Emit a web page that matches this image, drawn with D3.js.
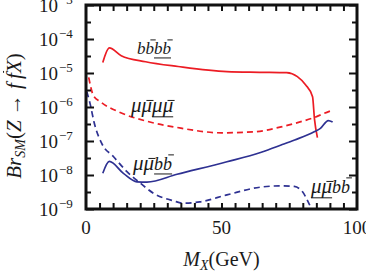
<!DOCTYPE html>
<html>
<head>
<meta charset="utf-8">
<script src="https://cdn.jsdelivr.net/npm/d3@7"></script>
<style>
  body { margin: 0; background: #fff; }
  text { font-family: "Liberation Serif", serif; fill: #1a1a1a; }
</style>
</head>
<body>
<div id="chart"></div>
<script>
// M_X (GeV) and Br_SM
const massBBBB = [6.2, 8.6, 13, 22, 34, 52, 64, 74, 78, 81, 83.6, 84.3, 85.4];
const brBBBB = [2.04e-5, 5.5e-5, 3.24e-5, 2.14e-5, 1.55e-5, 1.1e-5, 1.05e-5, 1.02e-5, 7.8e-6, 4.5e-6, 2.0e-6, 4.5e-7, 1.26e-7];

const massMMMM = [1, 2.7, 5.2, 12.6, 22.5, 33.6, 50, 62, 72, 79.3, 84.2, 87.9, 91];
const brMMMM = [7.4e-6, 2.2e-6, 1.45e-6, 6.9e-7, 3.8e-7, 2.5e-7, 1.74e-7, 1.86e-7, 2.6e-7, 3.7e-7, 4.9e-7, 6.5e-7, 8.1e-7];

const massMMBB = [6.2, 8.6, 13.8, 18.8, 22.5, 33.6, 52, 64.4, 72, 77, 84.2, 86.5, 89.4, 91];
const brMMBB = [1.12e-8, 2.5e-8, 1.12e-8, 6.3e-9, 6.2e-9, 1.05e-8, 2.45e-8, 4.6e-8, 7.6e-8, 1.07e-7, 1.86e-7, 2.35e-7, 4.0e-7, 3.6e-7];

const massMMBB2 = [0.3, 1.5, 3, 5.8, 10.1, 15.1, 20, 24.9, 32.3, 36, 42, 52, 64.4, 72, 76.8, 79.9, 81.7, 83.2];
const brMMBB2 = [2.8e-6, 1.26e-6, 3.5e-7, 8.5e-8, 3.5e-8, 1.26e-8, 5.8e-9, 2.9e-9, 1.74e-9, 1.48e-9, 1.62e-9, 2.6e-9, 4.4e-9, 4.8e-9, 4.6e-9, 3.2e-9, 1.8e-9, 1.0e-9];

const xTicks = [0, 50, 100];
const yExponents = [-3, -4, -5, -6, -7, -8, -9];

const width = 366, height = 272;
const marginLeft = 86, marginRight = 9, marginTop = 5, marginBottom = 63;
const red = '#ec1c24', blue = '#2e3192';

const svg = d3.select('#chart').append('svg')
  .attr('width', width).attr('height', height);

const x = d3.scaleLinear().domain([0, 100]).range([marginLeft, width - marginRight]);
const y = d3.scaleLog().domain([1e-9, 1e-3]).range([height - marginBottom, marginTop]);

svg.append('clipPath').attr('id', 'plotclip')
  .append('rect')
  .attr('x', x(0)).attr('y', y(1e-3))
  .attr('width', x(100) - x(0)).attr('height', y(1e-9) - y(1e-3));

// curves
const series = [
  { m: massBBBB, br: brBBBB, color: red, dash: null },
  { m: massMMMM, br: brMMMM, color: red, dash: '6,4' },
  { m: massMMBB, br: brMMBB, color: blue, dash: null },
  { m: massMMBB2, br: brMMBB2, color: blue, dash: '6,4' },
];
const line = d3.line()
  .x((d) => x(d[0]))
  .y((d) => y(d[1]))
  .curve(d3.curveMonotoneX);

const g = svg.append('g').attr('clip-path', 'url(#plotclip)');
series.forEach((s) => {
  g.append('path')
    .datum(d3.zip(s.m, s.br))
    .attr('fill', 'none')
    .attr('stroke', s.color)
    .attr('stroke-width', 1.7)
    .attr('stroke-dasharray', s.dash)
    .attr('d', line);
});

// ticks, inward on all four sides
const xMinor = d3.range(5, 100, 5);
const yMajor = yExponents.map((e) => Math.pow(10, e));
const yMinor = d3.range(-9, -3).map((e) => Math.pow(10, e + 0.5));

function tickAxis(axis, vals, size, transform) {
  svg.append('g')
    .attr('transform', transform)
    .call(axis.tickValues(vals).tickSize(size).tickFormat(''))
    .call((a) => a.select('.domain').remove())
    .call((a) => a.selectAll('line').attr('stroke', '#111').attr('stroke-width', 2));
}
tickAxis(d3.axisBottom(x), xMinor, -6, `translate(0,${y(1e-9)})`);
tickAxis(d3.axisTop(x), xMinor, -6, `translate(0,${y(1e-3)})`);
tickAxis(d3.axisLeft(y), yMajor, -8, `translate(${x(0)},0)`);
tickAxis(d3.axisLeft(y), yMinor, -5, `translate(${x(0)},0)`);
tickAxis(d3.axisRight(y), yMajor, -8, `translate(${x(100)},0)`);
tickAxis(d3.axisRight(y), yMinor, -5, `translate(${x(100)},0)`);

// frame
svg.append('rect')
  .attr('x', x(0)).attr('y', y(1e-3))
  .attr('width', x(100) - x(0)).attr('height', y(1e-9) - y(1e-3))
  .attr('fill', 'none').attr('stroke', '#111').attr('stroke-width', 3);

// tick labels
svg.append('g').selectAll('text')
  .data(xTicks)
  .join('text')
  .attr('x', (d) => x(d))
  .attr('y', y(1e-9) + 25)
  .attr('text-anchor', 'middle')
  .attr('font-size', 19)
  .text((d) => d);

const yl = svg.append('g').selectAll('text')
  .data(yExponents)
  .join('text')
  .attr('x', 39)
  .attr('y', (d) => y(Math.pow(10, d)) + 6.5)
  .attr('font-size', 19);
yl.append('tspan').text('10');
yl.append('tspan').attr('dy', -8).attr('dx', 1).attr('font-size', 13)
  .text((d) => '\u2212' + Math.abs(d));

// text made of glyph pieces; bars and underlines drawn as lines
// piece: [string, italic, size, dy, bar('hi'|'lo'|null), underline]
function mathText(parent, px, py, pieces, anchor) {
  const t = parent.append('text')
    .attr('x', px).attr('y', py)
    .attr('text-anchor', anchor || 'start');
  pieces.forEach((p) => {
    t.append('tspan')
      .attr('font-style', p[1] ? 'italic' : 'normal')
      .attr('font-size', p[2])
      .attr('dy', p[3] || null)
      .text(p[0]);
  });
  const node = t.node();
  let idx = 0;
  let ulStart = null, ulEnd = null, ulY = null;
  pieces.forEach((p) => {
    const n = p[0].length;
    const first = node.getExtentOfChar(idx);
    const last = node.getExtentOfChar(idx + n - 1);
    const base = first.y + first.height * 0.8;
    if (p[4]) {
      const h = p[4] === 'hi' ? 0.84 : 0.56;
      const slant = p[1] ? p[2] * h * 0.2 : 0;
      parent.append('line')
        .attr('x1', first.x + p[2] * 0.12 + slant)
        .attr('x2', last.x + last.width + slant * 0.6)
        .attr('y1', base - p[2] * h).attr('y2', base - p[2] * h)
        .attr('stroke', '#1a1a1a').attr('stroke-width', 1);
    }
    if (p[5]) {
      if (ulStart === null) ulStart = first.x;
      ulEnd = last.x + last.width;
      ulY = base + p[2] * 0.22;
    }
    idx += n;
  });
  if (ulStart !== null) {
    parent.append('line')
      .attr('x1', ulStart).attr('x2', ulEnd)
      .attr('y1', ulY).attr('y2', ulY)
      .attr('stroke', '#1a1a1a').attr('stroke-width', 1);
  }
  return t;
}

// axis titles
mathText(svg, x(50), 266, [
  ['M', true, 20], ['X', true, 14, 4], ['(GeV)', false, 20, -4],
], 'middle');

const ytg = svg.append('g')
  .attr('transform', `translate(21,${(y(1e-3) + y(1e-9)) / 2 + 9}) rotate(-90)`);
mathText(ytg, 0, 0, [
  ['Br', true, 21], ['SM', true, 14, 4], ['(', false, 21, -4], ['Z', true, 21],
  [' \u2192 ', false, 21], ['f\u2009', true, 21], ['f', true, 21, 0, 'hi'],
  ['X', true, 21], [')', false, 21],
], 'middle');

// curve labels
const mu = '\u03bc';
mathText(svg, 137, 54, [
  ['b', true, 17], ['b', true, 17, 0, 'hi'],
  ['b', true, 17, 0, null, true], ['b', true, 17, 0, 'hi', true],
]);
mathText(svg, 131, 112, [
  [mu, true, 21], [mu, true, 21, 0, 'lo'],
  [mu, true, 21, 0, null, true], [mu, true, 21, 0, 'lo', true],
]);
mathText(svg, 133, 170, [
  [mu, true, 21], [mu, true, 21, 0, 'lo'],
  ['b', true, 18, 0, null, true], ['b', true, 18, 0, 'hi', true],
]);
mathText(svg, 311, 193, [
  [mu, true, 21, 0, null, true], [mu, true, 21, 0, 'lo', true],
  ['b', true, 18], ['b', true, 18, 0, 'hi'],
]);
</script>
</body>
</html>
